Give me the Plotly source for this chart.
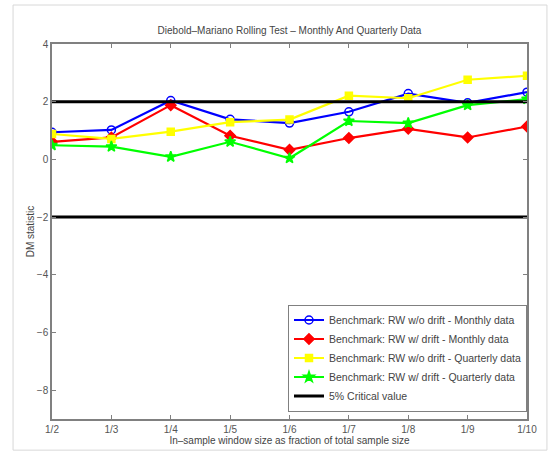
import plotly.graph_objects as go

tick_labels = ["1/2", "1/3", "1/4", "1/5", "1/6", "1/7", "1/8", "1/9", "1/10"]
x_pos = [1, 2, 3, 4, 5, 6, 7, 8, 9]

blue_monthly_nodrift = [0.94, 1.02, 2.04, 1.39, 1.26, 1.65, 2.28, 1.96, 2.33]
red_monthly_drift = [0.61, 0.76, 1.88, 0.82, 0.33, 0.74, 1.06, 0.76, 1.14]
yellow_quarterly_nodrift = [0.88, 0.71, 0.96, 1.29, 1.38, 2.21, 2.12, 2.76, 2.90]
green_quarterly_drift = [0.49, 0.44, 0.09, 0.61, 0.04, 1.33, 1.26, 1.88, 2.09]
critical_value = 2.0

series = [
    ("Benchmark: RW w/o drift - Monthly data", blue_monthly_nodrift, "#0000ff", "circle-open", 8),
    ("Benchmark: RW w/ drift - Monthly data", red_monthly_drift, "#ff0000", "diamond", 8),
    ("Benchmark: RW w/o drift - Quarterly data", yellow_quarterly_nodrift, "#ffff00", "square", 7),
    ("Benchmark: RW w/ drift - Quarterly data", green_quarterly_drift, "#00ff00", "star", 8),
]

fig = go.Figure()
for name, vals, color, sym, size in series:
    fig.add_trace(go.Scatter(
        x=x_pos, y=vals, name=name, mode="lines+markers",
        line=dict(color=color, width=2.2),
        marker=dict(symbol=sym, size=size, color=color,
                    line=dict(color=color, width=1.5)),
    ))

fig.add_trace(go.Scatter(
    x=[x_pos[0], x_pos[-1], None, x_pos[0], x_pos[-1]],
    y=[critical_value, critical_value, None, -critical_value, -critical_value],
    name="5% Critical value", mode="lines",
    line=dict(color="black", width=3),
))

axis_common = dict(
    showline=True, linecolor="#808080", linewidth=1.5, mirror="ticks",
    ticks="inside", ticklen=4, tickcolor="#808080", showgrid=False, zeroline=False,
    automargin=False,
    tickfont=dict(family="Liberation Sans, Arial", size=10, color="#555555"),
)

fig.update_layout(
    width=551, height=451,
    margin=dict(l=52, r=24, t=44, b=32, autoexpand=False),
    paper_bgcolor="white", plot_bgcolor="white",
    font=dict(family="Liberation Sans, Arial", size=10, color="#444444"),
    title=dict(text="Diebold\u2013Mariano Rolling Test \u2013 Monthly And Quarterly Data",
               x=0.5, xanchor="center", xref="paper", y=1 - 30 / 451, yanchor="middle",
               font=dict(size=10, color="#444444")),
    showlegend=True,
    legend=dict(x=1, xanchor="right", y=0.02, yanchor="bottom",
                bordercolor="#808080", borderwidth=1, bgcolor="white",
                font=dict(size=10.5, color="#444444"), tracegroupgap=0,
                itemwidth=30),
    xaxis=dict(range=[1, 9], tickvals=x_pos, ticktext=tick_labels,
               title=dict(text="In\u2013sample window size as fraction of total sample size",
                          standoff=0, font=dict(size=10, color="#444444")),
               **axis_common),
    yaxis=dict(range=[-9, 4], tickvals=[-8, -6, -4, -2, 0, 2, 4],
               ticktext=["\u22128", "\u22126", "\u22124", "\u22122", "0", "2", "4"],
               title=dict(text="DM statistic", standoff=0, font=dict(size=10, color="#444444")),
               **axis_common),
    shapes=[dict(type="rect", xref="paper", yref="paper",
                 x0=-0.082, x1=1.042, y0=-0.083, y1=1.104,
                 line=dict(color="#d8d8d8", width=1), layer="below")],
)

fig.write_html("out.html", config={"displayModeBar": False},
               post_script="document.body.style.margin='0';document.body.style.overflow='hidden';")
